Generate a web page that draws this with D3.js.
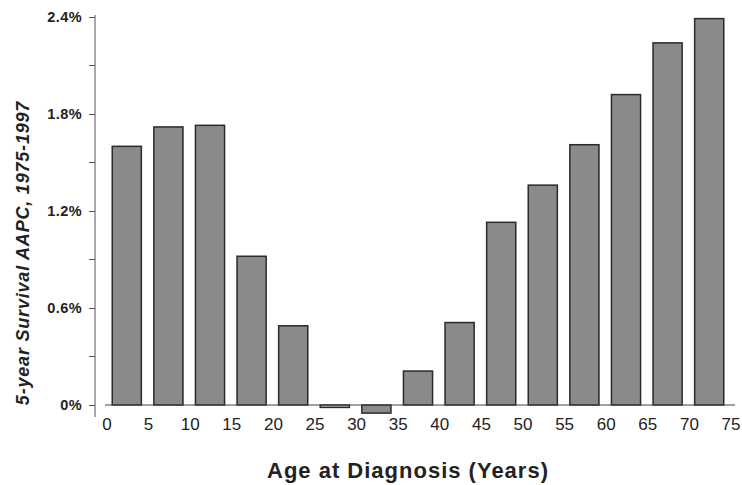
<!DOCTYPE html>
<html><head><meta charset="utf-8">
<script src="https://cdn.jsdelivr.net/npm/d3@7"></script>
<style>
body{margin:0;background:#fff;}
svg{display:block;font-family:"Liberation Sans",Arial,sans-serif;}
</style></head>
<body>
<svg id="chart" width="742" height="485"></svg>
<script>
const ageStarts = [0,5,10,15,20,25,30,35,40,45,50,55,60,65,70];
const aapcValues = [1.60,1.72,1.73,0.92,0.49,-0.015,-0.05,0.21,0.51,1.13,1.36,1.61,1.92,2.24,2.39];
const yTickValues = [0,0.6,1.2,1.8,2.4];
const yMinorTicks = [0.3,0.9,1.5,2.1];
const xTickValues = [0,5,10,15,20,25,30,35,40,45,50,55,60,65,70,75];

const svg = d3.select("#chart");
const x = d3.scaleLinear().domain([0,75]).range([106,730]);
const y = d3.scaleLinear().domain([0,2.4]).range([405,17]);
const bw = (x(5)-x(0))*0.7;

// bars
svg.append("g").selectAll("rect").data(ageStarts).join("rect")
  .attr("x",(d)=>x(d+2.5)-bw/2)
  .attr("width",bw)
  .attr("y",(d,i)=>y(Math.max(0,aapcValues[i])))
  .attr("height",(d,i)=>Math.max(1,Math.abs(y(aapcValues[i])-y(0))))
  .attr("fill",(d,i)=>Math.abs(aapcValues[i])<0.03?"#c8c8c8":"#8a8a8a")
  .attr("stroke","#2a2a2a").attr("stroke-width",1.5);

// x baseline
svg.append("line").attr("x1",105).attr("x2",735).attr("y1",y(0)).attr("y2",y(0))
  .attr("stroke","#444").attr("stroke-width",1.2);

// y axis
const yAxis = d3.axisLeft(y).tickValues(yTickValues).tickSize(6).tickPadding(7)
  .tickFormat(d=>d===0?"0%":d3.format(".1f")(d)+"%");
const gy = svg.append("g").attr("transform","translate(95,0)").call(yAxis);
gy.select(".domain").attr("d","M0,15V417").attr("stroke","#555");
gy.selectAll(".tick line").attr("stroke","#555");
gy.selectAll("text").attr("font-size",14.5).attr("font-weight","bold").attr("fill","#222")
  .attr("letter-spacing",0.4)
  .attr("font-family","'Liberation Sans',Arial,sans-serif");
svg.append("g").selectAll("line").data(yMinorTicks).join("line")
  .attr("x1",89).attr("x2",95).attr("y1",d=>y(d)).attr("y2",d=>y(d)).attr("stroke","#555");

// x tick labels
svg.append("g").selectAll("text").data(xTickValues).join("text")
  .attr("x",d=>x(d)+1).attr("y",430).attr("text-anchor","middle")
  .attr("font-size",17).attr("fill","#222").text(d=>d);

// titles
svg.append("text").attr("x",408).attr("y",478).attr("text-anchor","middle")
  .attr("font-size",22).attr("font-weight","bold").attr("fill","#222")
  .attr("letter-spacing",1)
  .text("Age at Diagnosis (Years)");
svg.append("text").attr("transform","translate(29,253) rotate(-90)")
  .attr("text-anchor","middle").attr("font-size",18).attr("font-weight","bold")
  .attr("font-style","italic").attr("fill","#222").attr("letter-spacing",0.8)
  .text("5-year Survival AAPC, 1975-1997");
</script>
</body></html>
